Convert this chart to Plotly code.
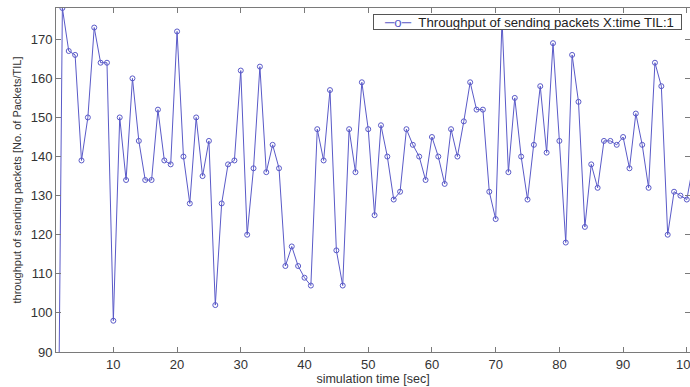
import plotly.graph_objects as go

time_sec = list(range(1, 102))
throughput = [
    0, 178, 167, 166, 139, 150, 173, 164, 164, 98,
    150, 134, 160, 144, 134, 134, 152, 139, 138, 172,
    140, 128, 150, 135, 144, 102, 128, 138, 139, 162,
    120, 137, 163, 136, 143, 137, 112, 117, 112, 109,
    107, 147, 139, 157, 116, 107, 147, 136, 159, 147,
    125, 148, 140, 129, 131, 147, 143, 140, 134, 145,
    140, 133, 147, 140, 149, 159, 152, 152, 131, 124,
    175, 136, 155, 140, 129, 143, 158, 141, 169, 144,
    118, 166, 154, 122, 138, 132, 144, 144, 143, 145,
    137, 151, 143, 132, 164, 158, 120, 131, 130, 129,
    138,
]
x_ticks = [10, 20, 30, 40, 50, 60, 70, 80, 90, 100]
y_ticks = [90, 100, 110, 120, 130, 140, 150, 160, 170]
legend_label = "Throughput of sending packets X:time TIL:1"

line_color = "#5a5ac8"
axis_color = "#7a7a7a"
font_family = "Liberation Sans, Arial, sans-serif"

fig = go.Figure()
fig.add_trace(go.Scatter(
    x=time_sec, y=throughput, mode="lines+markers",
    name=legend_label,
    line=dict(color=line_color, width=1),
    marker=dict(symbol="circle-open", size=5, color=line_color, line=dict(width=1)),
))

# Plot area in pixels: x 56..690, y 8..352
PL, PR, PT, PB = 56, 690, 8, 352
def px(xp):
    return (xp - PL) / (PR - PL)
def py(yp):
    return (PB - yp) / (PB - PT)

# Compact MATLAB-style legend drawn as a boxed annotation (sits above the data)
nb = "\u00a0"
legend_text = (f"{nb*3}<span style='color:{line_color}'>─o─</span>{nb*2}{legend_label}{nb*2}")
annotations = [
    dict(text=legend_text, xref="paper", yref="paper", x=px(682), y=py(13.5),
         xanchor="right", yanchor="top", showarrow=False, align="left",
         bgcolor="white", bordercolor="#555555", borderwidth=1, borderpad=0,
         height=14,
         font=dict(size=13.2, color="#222222")),
]

fig.update_layout(
    width=690, height=387,
    margin=dict(l=PL, r=690 - PR, t=PT, b=387 - PB, autoexpand=False),
    paper_bgcolor="white", plot_bgcolor="white",
    font=dict(family=font_family, size=12, color="#333333"),
    showlegend=False,
    annotations=annotations,
)
fig.update_xaxes(
    range=[1, 100.5], tickvals=x_ticks, ticks="inside", ticklen=5,
    tickcolor=axis_color, showline=True, linecolor=axis_color, linewidth=1,
    mirror="ticks", showgrid=False, zeroline=False, ticklabeloverflow="allow",
    automargin=False,
    tickfont=dict(size=13, color="#333333"),
    title=dict(text="simulation time [sec]", font=dict(size=12.5, color="#333333"), standoff=0),
)
fig.update_yaxes(
    range=[90, 178], tickvals=y_ticks, ticks="inside", ticklen=5,
    tickcolor=axis_color, showline=True, linecolor=axis_color, linewidth=1,
    mirror="ticks", showgrid=False, zeroline=False, automargin=False,
    tickfont=dict(size=13, color="#333333"),
    title=dict(text="throughput of sending packets [No. of Packets/TIL]",
               font=dict(size=11, color="#333333"), standoff=6),
)

fig.write_html("out.html")
